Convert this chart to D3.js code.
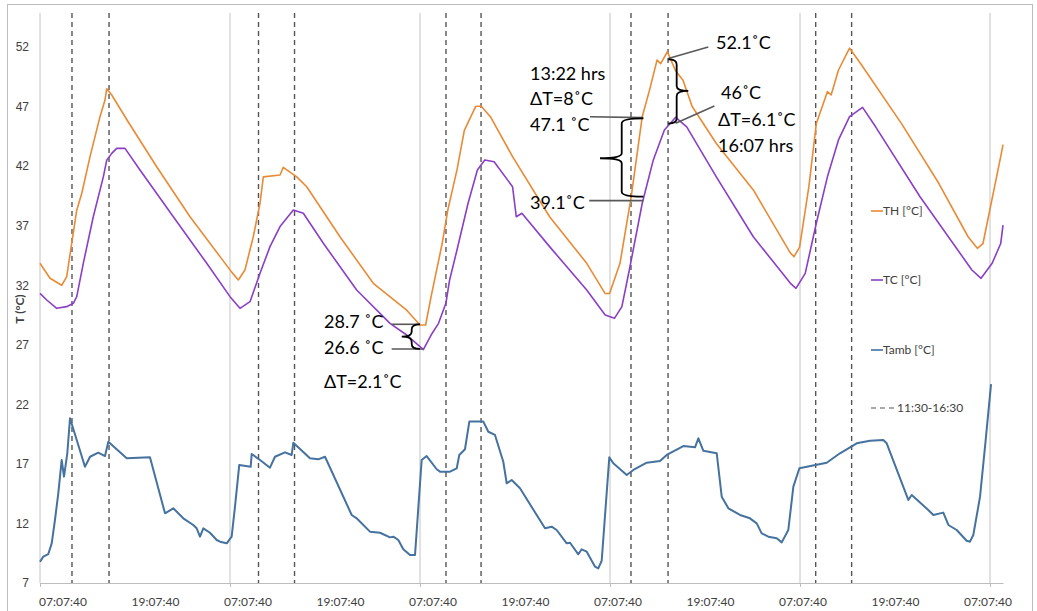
<!DOCTYPE html>
<html>
<head>
<meta charset="utf-8">
<script src="https://cdn.jsdelivr.net/npm/d3@7"></script>
<style>
  html, body { margin: 0; padding: 0; background: #fff; }
  svg { display: block; font-family: Lato, "Liberation Sans", sans-serif; }
  .tick text { fill: #404040; font-size: 12px; }
  .note { font-size: 18px; fill: #000; }
</style>
</head>
<body>
<svg id="chart" width="1037" height="611"></svg>
<script>
  // hours since the first 07:07:40 reading, and temperature in °C
  const TH = [
    [0, 33.84], [1.26, 32.58], [2.74, 32.0], [3.37, 32.7], [4.0, 35.5], [4.64, 38.3], [5.27, 39.7],
    [6.32, 42.8], [7.58, 46.15], [8.21, 47.55], [8.43, 48.5], [9.06, 47.97], [11.15, 45.7],
    [14.74, 41.95], [18.95, 37.75], [22.74, 34.4], [24.21, 33.1], [25.05, 32.44], [25.89, 33.28],
    [26.94, 36.07], [27.79, 38.88], [28.21, 41.1], [30.32, 41.25], [30.73, 41.9], [32.43, 41.1],
    [33.69, 40.27], [37.89, 36.07], [42.1, 32.16], [46.32, 29.9], [48.0, 28.66], [48.71, 28.66],
    [49.4, 31.04], [50.8, 35.5], [51.51, 38.3], [52.67, 41.68], [53.6, 45.0], [55.02, 47.0],
    [55.71, 47.05], [56.89, 46.15], [59.69, 42.8], [64.37, 37.75], [69.06, 33.84], [71.39, 31.3],
    [71.95, 31.3], [73.26, 33.84], [74.67, 39.4], [76.07, 46.15], [77.0, 48.4], [77.94, 50.9],
    [78.4, 50.6], [79.25, 51.6], [80.29, 50.0], [81.22, 49.2], [82.38, 47.0], [85.43, 43.9],
    [90.1, 40.0], [94.79, 34.7], [95.24, 34.4], [95.95, 35.2], [97.12, 40.27], [98.06, 45.57],
    [99.46, 48.25], [99.93, 47.97], [100.86, 50.07], [102.26, 51.9], [103.67, 50.6], [108.82, 45.57],
    [113.49, 40.6], [117.23, 36.07], [118.4, 35.1], [119.11, 35.5], [121.35, 42.8], [121.64, 43.8]
  ];

  const TC = [
    [0, 31.32], [0.85, 30.76], [2.11, 30.06], [3.37, 30.2], [4.21, 30.48], [4.64, 31.04], [5.47, 33.84],
    [6.73, 37.75], [8.0, 41.1], [8.43, 42.5], [9.06, 43.07], [9.69, 43.49], [10.74, 43.49],
    [12.63, 41.68], [16.84, 37.75], [21.06, 33.84], [24.0, 31.04], [25.26, 30.06], [26.53, 30.62],
    [27.79, 33.0], [29.05, 35.24], [30.32, 36.92], [32.0, 38.32], [33.26, 38.04], [35.79, 35.52],
    [40.0, 31.6], [44.21, 28.8], [46.32, 27.82], [48.0, 26.84], [48.42, 26.6], [49.4, 27.82],
    [50.34, 28.8], [51.27, 30.48], [51.74, 32.44], [52.67, 34.96], [54.07, 38.88], [55.25, 41.68],
    [56.18, 42.52], [57.36, 42.37], [59.69, 40.27], [60.16, 37.75], [60.87, 38.04], [64.37, 35.24],
    [69.06, 31.6], [71.39, 29.5], [72.56, 29.22], [73.5, 30.2], [74.44, 33.28], [76.07, 38.88],
    [77.47, 42.52], [78.87, 45.03], [80.29, 46.1], [81.69, 45.3], [85.43, 41.1], [90.1, 36.07],
    [94.79, 32.16], [95.49, 31.74], [96.66, 33.0], [98.06, 37.2], [99.46, 41.1], [100.86, 44.2],
    [102.26, 46.15], [103.9, 46.93], [105.55, 45.3], [111.16, 39.43], [117.71, 33.28],
    [118.87, 32.58], [120.27, 33.84], [121.35, 35.5], [121.64, 37.05]
  ];

  const TAMB = [
    [0, 8.79], [0.42, 9.21], [1.05, 9.43], [1.48, 10.33], [1.89, 12.29], [2.31, 14.53], [2.74, 17.33],
    [3.03, 15.93], [3.45, 17.89], [3.79, 20.83], [4.64, 19.0], [5.68, 16.76], [6.32, 17.6],
    [7.36, 17.94], [8.21, 17.66], [8.63, 18.86], [10.95, 17.47], [13.89, 17.55], [15.79, 12.85],
    [16.84, 13.27], [18.1, 12.43], [19.36, 11.87], [19.79, 11.59], [20.21, 10.89], [20.63, 11.59],
    [21.47, 11.22], [22.32, 10.61], [22.74, 10.47], [23.58, 10.33], [24.21, 10.89], [24.63, 13.41],
    [25.17, 16.91], [26.61, 16.76], [26.74, 17.83], [27.79, 17.33], [29.05, 16.68], [29.68, 17.6],
    [30.95, 17.97], [31.79, 17.75], [32.0, 18.78], [34.1, 17.47], [35.15, 17.38], [36.0, 17.6],
    [39.37, 12.71], [40.0, 12.43], [41.68, 11.31], [42.95, 11.22], [44.21, 10.83], [44.63, 10.89],
    [45.26, 10.61], [45.89, 9.83], [46.74, 9.35], [47.37, 9.35], [48.21, 17.33], [48.84, 17.66],
    [50.11, 16.55], [50.53, 16.35], [51.79, 16.35], [52.64, 16.63], [52.96, 17.75], [53.68, 18.23],
    [54.23, 20.55], [56.0, 20.55], [56.63, 19.7], [57.47, 19.43], [58.52, 17.18], [58.95, 15.37],
    [59.58, 15.65], [60.63, 14.95], [63.79, 11.59], [64.63, 11.73], [65.26, 11.45], [66.53, 10.33],
    [66.95, 10.38], [68.0, 9.41], [68.42, 9.83], [69.06, 9.63], [70.11, 8.37], [70.52, 8.23],
    [70.95, 8.87], [71.91, 17.55], [72.42, 17.05], [74.11, 16.07], [74.95, 16.49], [76.64, 17.1],
    [78.32, 17.24], [79.16, 17.75], [81.26, 18.5], [82.74, 18.39], [83.16, 19.15], [83.78, 18.11],
    [85.48, 17.89], [86.11, 14.25], [86.95, 13.27], [88.42, 12.71], [89.68, 12.43], [90.53, 12.01],
    [91.16, 11.17], [92.0, 10.89], [93.06, 10.75], [93.69, 10.41], [94.52, 11.45], [95.16, 15.09],
    [95.92, 16.63], [99.37, 17.1], [101.05, 17.89], [103.16, 18.73], [104.84, 18.95], [106.52, 19.0],
    [106.95, 18.73], [109.68, 13.97], [110.11, 14.39], [112.2, 13.13], [112.84, 12.71], [114.1, 12.91],
    [114.74, 11.87], [115.79, 11.45], [117.05, 10.55], [117.47, 10.47], [117.89, 11.03],
    [118.74, 14.25], [119.37, 18.45], [120.13, 23.7]
  ];

  // 11:30 and 16:30 markers, hours since start
  const WINDOW_MARKS = [4.04, 8.72, 27.6, 32.15, 51.28, 55.71, 74.65, 79.33, 97.98, 102.52];
  const DAY_TICKS = [0, 24, 48, 72, 96, 120];
  const TIME_LABELS = ["07:07:40", "19:07:40", "07:07:40", "19:07:40", "07:07:40", "19:07:40",
    "07:07:40", "19:07:40", "07:07:40", "19:07:40", "07:07:40"];
  const Y_TICKS = [7, 12, 17, 22, 27, 32, 37, 42, 47, 52];

  const SERIES = [
    { name: "TH [°C]", data: TH, color: "#e98a35" },
    { name: "TC [°C]", data: TC, color: "#8a3fc4" },
    { name: "Tamb [°C]", data: TAMB, color: "#45729f" }
  ];

  const svg = d3.select("#chart");
  const plotTop = 13;

  const x = d3.scaleLinear().domain([0, 121.64]).range([40, 1003]);
  const y = d3.scaleLinear().domain([7, 52]).range([583, 47]);
  const labelX = d3.scalePoint().domain(d3.range(TIME_LABELS.length)).range([63, 988]);

  // outer frame
  svg.append("rect")
    .attr("x", 7.5).attr("y", 4.5)
    .attr("width", 1025).attr("height", 620)
    .attr("fill", "none").attr("stroke", "#bdbdbd");

  // day gridlines
  svg.append("g")
    .selectAll("line")
    .data(DAY_TICKS)
    .join("line")
    .attr("x1", (d) => x(d)).attr("x2", (d) => x(d))
    .attr("y1", plotTop).attr("y2", y(7))
    .attr("stroke", "#c4c4c4").attr("stroke-width", 1);

  // 11:30-16:30 dashed markers
  svg.append("g")
    .selectAll("line")
    .data(WINDOW_MARKS)
    .join("line")
    .attr("x1", (d) => x(d)).attr("x2", (d) => x(d))
    .attr("y1", plotTop).attr("y2", y(7))
    .attr("stroke", "#555").attr("stroke-width", 1.4)
    .attr("stroke-dasharray", "5,4");

  // x axis
  const xAxis = svg.append("g")
    .attr("transform", `translate(0,${y(7)})`)
    .call(d3.axisBottom(x).tickValues(DAY_TICKS).tickSize(4).tickSizeOuter(0).tickFormat(""));
  xAxis.select(".domain").attr("stroke", "#bdbdbd").attr("stroke-width", 1.2);
  xAxis.selectAll(".tick line").attr("stroke", "#bdbdbd");

  svg.append("g")
    .selectAll("text")
    .data(TIME_LABELS)
    .join("text")
    .attr("x", (d, i) => labelX(i))
    .attr("y", 606)
    .attr("text-anchor", "middle")
    .attr("font-size", 12)
    .attr("fill", "#404040")
    .text((d) => d);

  // y axis labels only
  const yAxis = svg.append("g")
    .attr("transform", "translate(40,0)")
    .call(d3.axisLeft(y).tickValues(Y_TICKS).tickSize(0).tickPadding(11));
  yAxis.select(".domain").remove();

  svg.append("text")
    .attr("transform", "translate(24,309) rotate(-90)")
    .attr("text-anchor", "middle")
    .attr("font-size", 12)
    .attr("font-weight", "bold")
    .attr("fill", "#404040")
    .text("T (°C)");

  // series
  const line = d3.line().x((d) => x(d[0])).y((d) => y(d[1]));
  svg.append("g")
    .selectAll("path")
    .data(SERIES)
    .join("path")
    .attr("d", (s) => line(s.data))
    .attr("fill", "none")
    .attr("stroke", (s) => s.color)
    .attr("stroke-width", (s) => (s.name.startsWith("Tamb") ? 2 : 1.6))
    .attr("stroke-linejoin", "round");

  // legend
  const legendY = [211, 280, 350];
  const legend = svg.append("g").attr("font-size", 12).attr("fill", "#404040");
  SERIES.forEach((s, i) => {
    legend.append("line")
      .attr("x1", 871).attr("x2", 883)
      .attr("y1", legendY[i]).attr("y2", legendY[i])
      .attr("stroke", s.color).attr("stroke-width", 1.6);
    legend.append("text")
      .attr("x", 883).attr("y", legendY[i] + 4)
      .text(s.name);
  });
  legend.append("line")
    .attr("x1", 871).attr("x2", 895)
    .attr("y1", 408).attr("y2", 408)
    .attr("stroke", "#555").attr("stroke-width", 1.2)
    .attr("stroke-dasharray", "5,4");
  legend.append("text").attr("x", 897).attr("y", 412).text("11:30-16:30");

  // annotations
  const notes = svg.append("g");

  function leader(h1, v1, h2, v2) {
    notes.append("line")
      .attr("x1", x(h1)).attr("y1", y(v1))
      .attr("x2", x(h2)).attr("y2", y(v2))
      .attr("stroke", "#595959").attr("stroke-width", 1.6);
  }

  // curly brace: spine at hx, from vTop to vBot, arms reach hArm, point reaches hTip
  function brace(hx, vTop, vBot, hArm, hTip, vMid) {
    const sx = x(hx), top = y(vTop), bot = y(vBot), arm = x(hArm), tip = x(hTip);
    const mid = vMid === undefined ? (top + bot) / 2 : y(vMid);
    const r = Math.min(5, (bot - top) / 4);
    const p = d3.path();
    p.moveTo(arm, top);
    p.quadraticCurveTo(sx, top, sx, top + r);
    p.lineTo(sx, mid - r);
    p.quadraticCurveTo(sx, mid, tip, mid);
    p.quadraticCurveTo(sx, mid, sx, mid + r);
    p.lineTo(sx, bot - r);
    p.quadraticCurveTo(sx, bot, arm, bot);
    notes.append("path")
      .attr("d", p.toString())
      .attr("fill", "none").attr("stroke", "#000").attr("stroke-width", 1.8);
  }

  leader(79.36, 51.04, 84.41, 52.0);
  leader(80.29, 45.6, 85.18, 47.05);
  leader(69.47, 46.15, 76.21, 46.07);
  leader(69.38, 39.1, 76.21, 39.1);
  leader(44.42, 28.72, 48.0, 28.72);
  leader(44.42, 26.65, 48.42, 26.65);

  brace(73.48, 46.01, 39.43, 76.21, 70.74, 42.66);
  brace(80.42, 50.96, 45.57, 79.36, 81.89, 48.31);
  brace(46.95, 28.72, 26.65, 48.0, 45.69, 27.68);

  const NOTE_TEXT = [
    ["52.1˚C", 716, 49],
    ["13:22 hrs", 530, 80],
    ["ΔT=8˚C", 530, 105],
    ["47.1 ˚C", 530, 131],
    ["39.1˚C", 530, 209],
    ["46˚C", 721, 99],
    ["ΔT=6.1˚C", 718, 126],
    ["16:07 hrs", 718, 152],
    ["28.7 ˚C", 324, 328],
    ["26.6 ˚C", 324, 354],
    ["ΔT=2.1˚C", 324, 388]
  ];
  notes.selectAll("text")
    .data(NOTE_TEXT)
    .join("text")
    .attr("class", "note")
    .attr("x", (d) => d[1])
    .attr("y", (d) => d[2])
    .text((d) => d[0]);
</script>
</body>
</html>
